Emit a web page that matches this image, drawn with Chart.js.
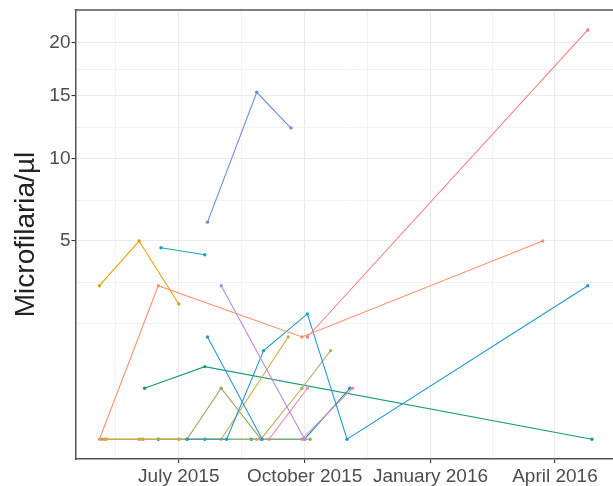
<!DOCTYPE html>
<html>
<head>
<meta charset="utf-8">
<script src="https://cdn.jsdelivr.net/npm/chart.js@4.4.1/dist/chart.umd.min.js"></script>
<style>
  html, body { margin: 0; padding: 0; background: #fff; overflow: hidden; }
</style>
</head>
<body>
<canvas id="myChart" width="617" height="486"></canvas>
<script>
// Sampling date and microfilaria count per µl for each individual
const ind01 = [['2015-05-04', 3.0], ['2015-06-02', 5.0], ['2015-07-01', 2.33]];
const ind02 = [['2015-05-04', 0], ['2015-06-16', 3.0], ['2015-09-29', 1.33], ['2016-03-23', 5.0]];
const ind03 = [['2015-10-03', 1.33], ['2016-04-25', 21.33]];
const ind04 = [['2015-06-18', 4.67], ['2015-07-20', 4.33]];
const ind05 = [['2015-07-22', 6.0], ['2015-08-27', 15.33], ['2015-09-21', 12.33]];
const ind06 = [['2015-06-06', 0.33], ['2015-07-20', 0.67], ['2016-04-28', 0]];
const ind07 = [['2015-08-01', 3.0], ['2015-10-01', 0]];
const ind08 = [['2015-07-07', 0], ['2015-08-05', 0], ['2015-09-01', 1.0], ['2015-10-03', 2.0], ['2015-11-01', 0], ['2016-04-25', 3.0]];
const ind09 = [['2015-07-22', 1.33], ['2015-08-31', 0]];
const ind10 = [['2015-05-06', 0], ['2015-06-02', 0], ['2015-07-01', 0], ['2015-07-07', 0], ['2015-08-01', 0.33], ['2015-08-30', 0], ['2015-10-05', 0]];
const ind11 = [['2015-05-08', 0], ['2015-06-04', 0], ['2015-08-01', 0], ['2015-09-19', 1.33]];
const ind12 = [['2015-05-09', 0], ['2015-06-05', 0], ['2015-08-30', 0], ['2015-09-29', 0.33], ['2015-10-20', 1.0]];
const ind13 = [['2015-08-27', 0], ['2015-09-05', 0], ['2015-10-03', 0.33]];
const ind14 = [['2015-06-16', 0], ['2015-07-20', 0], ['2015-08-23', 0], ['2015-10-01', 0], ['2015-11-03', 0.33]];
const ind15 = [['2015-09-29', 0], ['2015-11-05', 0.33]];

const individuals = [ind03, ind02, ind01, ind04, ind05, ind07, ind09, ind08, ind11, ind12, ind10, ind13, ind15, ind06, ind14];
const lineColors = ['#F77F80', '#F79470', '#E69F00', '#1AA2BF', '#6C8FD1', '#BC89D4', '#2A96D8', '#1E9AD6',
                    '#D8A840', '#BAAE55', '#94A85E', '#F48CB4', '#E58AC6', '#1B9A7B', '#14A09B'];

const yBreaks = [5, 10, 15, 20];
const xBreaks = ['2015-07-01', '2015-10-01', '2016-01-01', '2016-04-01'];
const xBreakLabels = ['July 2015', 'October 2015', 'January 2016', 'April 2016'];

const toTime = s => Date.parse(s + 'T00:00:00Z');
const sq = v => Math.sign(v) * Math.sqrt(Math.abs(v));
const unsq = t => Math.sign(t) * t * t;
const ident = v => v;

// Square-root axis built on the linear one
class SqrtScale extends Chart.LinearScale {
    static id = 'sqrt';
    static defaults = {};
    getPixelForValue(value) {
        const a = sq(this.min), b = sq(this.max);
        return this.getPixelForDecimal((sq(value) - a) / (b - a));
    }
    getValueForPixel(pixel) {
        const a = sq(this.min), b = sq(this.max);
        return unsq(a + this.getDecimalForPixel(pixel) * (b - a));
    }
}
Chart.register(SqrtScale);

// major ticks plus ggplot-style minor ticks (midpoints in transformed space)
function buildTicks(majors, lo, hi, tf, inv) {
    const t = majors.map(tf);
    const bd = t[1] - t[0];
    const ext = [t[0] - bd, ...t, t[t.length - 1] + bd];
    const out = majors.map(v => ({ value: v, major: true }));
    ext.forEach((v, i) => {
        if (!t.includes(v)) out.push({ value: inv(v), major: false });
        if (i < ext.length - 1) out.push({ value: inv((v + ext[i + 1]) / 2), major: false });
    });
    return out.filter(k => k.value >= lo && k.value <= hi).sort((a, b) => a.value - b.value);
}

const xMin = Date.UTC(2015, 3, 16, 12);
const xMax = Date.UTC(2016, 4, 13, 10);
const yMin = -0.05;
const yMax = 23.46;

const xMajor = xBreaks.map(toTime);
const xTicks = buildTicks(xMajor, xMin, xMax, ident, ident);
const yTicks = buildTicks(yBreaks, yMin, yMax, sq, unsq);

const datasets = individuals.map((rows, i) => ({
    data: rows.map(r => ({ x: toTime(r[0]), y: r[1] })),
    borderColor: lineColors[i],
    backgroundColor: lineColors[i],
    borderWidth: 1.1,
    pointRadius: 1.7,
    pointBorderWidth: 0,
    tension: 0
}));

const gridColor = ctx => (ctx.tick && ctx.tick.major) ? '#EBEBEB' : '#F1F1F1';
const gridWidth = ctx => (ctx.tick && ctx.tick.major) ? 1.1 : 0.9;
const tickColor = ctx => (ctx.tick && ctx.tick.major) ? '#333333' : 'rgba(0,0,0,0)';
const fontFamily = "'Liberation Sans', Arial, sans-serif";

// top edge of the panel
const panelTop = {
    id: 'panelTop',
    afterDraw(chart) {
        const { ctx, chartArea } = chart;
        ctx.save();
        ctx.strokeStyle = '#555555';
        ctx.lineWidth = 1.5;
        ctx.beginPath();
        ctx.moveTo(chartArea.left - 0.75, chartArea.top);
        ctx.lineTo(chartArea.right, chartArea.top);
        ctx.stroke();
        ctx.restore();
    }
};

new Chart(document.getElementById('myChart'), {
    type: 'line',
    data: { datasets: datasets },
    plugins: [panelTop],
    options: {
        responsive: false,
        animation: false,
        layout: { padding: { top: 10, right: 0, left: 0, bottom: 0 } },
        plugins: { legend: { display: false }, tooltip: { enabled: false } },
        scales: {
            x: {
                type: 'linear',
                min: xMin,
                max: xMax,
                bounds: 'data',
                afterBuildTicks: scale => { scale.ticks = xTicks.map(k => ({ ...k })); },
                afterFit: scale => { scale.height = 27; scale.paddingLeft = 0; scale.paddingRight = 0; },
                grid: { color: gridColor, lineWidth: gridWidth, tickColor: tickColor, tickLength: 4, tickWidth: 1.1 },
                border: { display: true, color: '#555555', width: 1.5 },
                ticks: {
                    autoSkip: false,
                    maxRotation: 0,
                    padding: 2,
                    color: '#4D4D4D',
                    font: { family: fontFamily, size: 19 },
                    callback: (value, i, ticks) => {
                        const k = xMajor.indexOf(value);
                        return k >= 0 ? xBreakLabels[k] : '';
                    }
                }
            },
            y: {
                type: 'sqrt',
                min: yMin,
                max: yMax,
                bounds: 'data',
                afterBuildTicks: scale => { scale.ticks = yTicks.map(k => ({ ...k })); },
                afterFit: scale => { scale.width = 75.5; scale.paddingTop = 0; scale.paddingBottom = 0; },
                grid: { color: gridColor, lineWidth: gridWidth, tickColor: tickColor, tickLength: 4, tickWidth: 1.1 },
                border: { display: true, color: '#555555', width: 1.5 },
                title: {
                    display: true,
                    text: 'Microfilaria/µl',
                    color: '#222222',
                    font: { family: fontFamily, size: 28 },
                    padding: { top: 9, bottom: 0 }
                },
                ticks: {
                    autoSkip: false,
                    padding: 1,
                    color: '#4D4D4D',
                    font: { family: fontFamily, size: 19 },
                    callback: (value, i, ticks) => ticks[i].major ? String(value) : ''
                }
            }
        }
    }
});
</script>
</body>
</html>
